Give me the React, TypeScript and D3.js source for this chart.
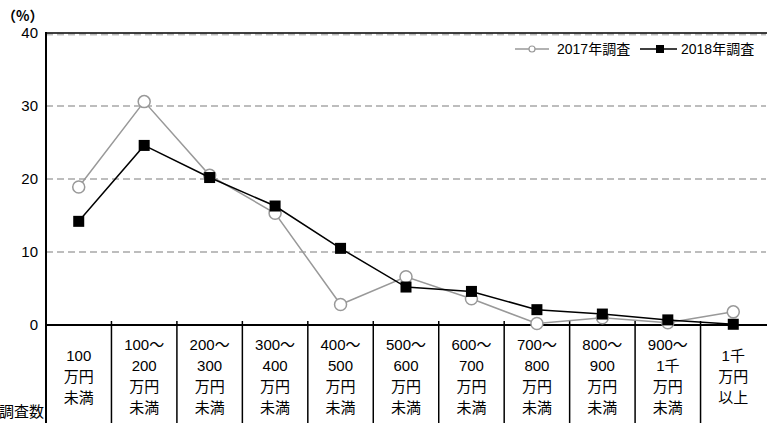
import React from "react";
import * as d3 from "d3";

const categories: string[][] = [
  ["100", "万円", "未満"],
  ["100～", "200", "万円", "未満"],
  ["200～", "300", "万円", "未満"],
  ["300～", "400", "万円", "未満"],
  ["400～", "500", "万円", "未満"],
  ["500～", "600", "万円", "未満"],
  ["600～", "700", "万円", "未満"],
  ["700～", "800", "万円", "未満"],
  ["800～", "900", "万円", "未満"],
  ["900～", "1千", "万円", "未満"],
  ["1千", "万円", "以上"],
];
const series2017: number[] = [18.9, 30.6, 20.5, 15.3, 2.8, 6.6, 3.6, 0.2, 1.0, 0.3, 1.8];
const series2018: number[] = [14.2, 24.6, 20.2, 16.3, 10.5, 5.2, 4.6, 2.1, 1.5, 0.7, 0.1];
const yTicks: number[] = [0, 10, 20, 30, 40];
const legendLabels = ["2017年調査", "2018年調査"];

const W = 767;
const H = 423;
const left = 46;
const right = 766;
const top = 33;
const bottom = 325;
const FONT = "'Liberation Sans', 'Noto Sans CJK JP', sans-serif";
const CJK = "'Noto Sans CJK JP', sans-serif";

export default function App() {
  const idx = categories.map((_, i) => i);
  const x = d3.scaleBand<number>().domain(idx).range([left, right]).padding(0);
  const y = d3.scaleLinear().domain([0, 40]).range([bottom, top]);
  const cx = (i: number) => (x(i) as number) + x.bandwidth() / 2;
  const line = d3
    .line<number>()
    .x((_, i) => cx(i))
    .y((d) => y(d));

  return (
    <div style={{ position: "fixed", left: 0, top: 0 }}>
      <svg width={W} height={H} style={{ display: "block", background: "#fff" }}>
        {/* grid */}
        {yTicks
          .filter((t) => t > 0)
          .map((t) => (
            <line
              key={t}
              x1={left}
              x2={right}
              y1={y(t) + (t === 40 ? 1.5 : 0)}
              y2={y(t) + (t === 40 ? 1.5 : 0)}
              stroke="#bdbdbd"
              strokeWidth={2}
              strokeDasharray="7,4"
            />
          ))}
        <line x1={left} x2={right + 1} y1={top} y2={top} stroke="#000" strokeWidth={1.5} />
        {/* y tick labels */}
        {yTicks.map((t) => (
          <text
            key={t}
            x={38}
            y={y(t)}
            dy="0.35em"
            textAnchor="end"
            fontFamily={FONT}
            fontSize={15}
            fill="#000"
          >
            {t}
          </text>
        ))}
        <text x={2} y={16} dy="0.35em" fontFamily={CJK} fontSize={14} fontWeight="bold" fill="#000">
          （%）
        </text>
        {/* category dividers */}
        {idx.slice(1).map((i) => (
          <line
            key={i}
            x1={x(i) as number}
            x2={x(i) as number}
            y1={bottom - 4}
            y2={H}
            stroke="#000"
            strokeWidth={1.5}
          />
        ))}
        {/* axes */}
        <line x1={left} x2={right + 1} y1={bottom} y2={bottom} stroke="#000" strokeWidth={2} />
        <line x1={left} x2={left} y1={top - 1} y2={H} stroke="#000" strokeWidth={2} />
        {/* category labels */}
        {categories.map((lines, i) => {
          const startY = lines.length === 4 ? 345 : 356;
          return (
            <text
              key={i}
              textAnchor="middle"
              fontFamily={FONT}
              fontSize={15}
              fill="#000"
            >
              {lines.map((s, j) => (
                <tspan key={j} x={cx(i)} y={startY + j * 21} dy="0.35em">
                  {s}
                </tspan>
              ))}
            </text>
          );
        })}
        <text x={44} y={412} dy="0.35em" textAnchor="end" fontFamily={FONT} fontSize={15} fill="#000">
          調査数
        </text>
        {/* series 2017 */}
        <path d={line(series2017) || ""} fill="none" stroke="#999" strokeWidth={1.5} />
        {series2017.map((v, i) => (
          <circle key={i} cx={cx(i)} cy={y(v)} r={6} fill="#fff" stroke="#999" strokeWidth={1.5} />
        ))}
        {/* series 2018 */}
        <path d={line(series2018) || ""} fill="none" stroke="#000" strokeWidth={1.5} />
        {series2018.map((v, i) => (
          <rect key={i} x={cx(i) - 5.5} y={y(v) - 5.5} width={11} height={11} fill="#000" />
        ))}
        {/* legend */}
        <line x1={515} x2={549} y1={49} y2={49} stroke="#999" strokeWidth={1.5} />
        <circle cx={532} cy={49} r={3} fill="#fff" stroke="#999" strokeWidth={1.2} />
        <text x={557} y={49} dy="0.35em" fontFamily={FONT} fontSize={14} fill="#000">
          {legendLabels[0]}
        </text>
        <line x1={640} x2={677} y1={49} y2={49} stroke="#000" strokeWidth={1.5} />
        <rect x={656} y={45} width={8} height={8} fill="#000" />
        <text x={681} y={49} dy="0.35em" fontFamily={FONT} fontSize={14} fill="#000">
          {legendLabels[1]}
        </text>
      </svg>
    </div>
  );
}
